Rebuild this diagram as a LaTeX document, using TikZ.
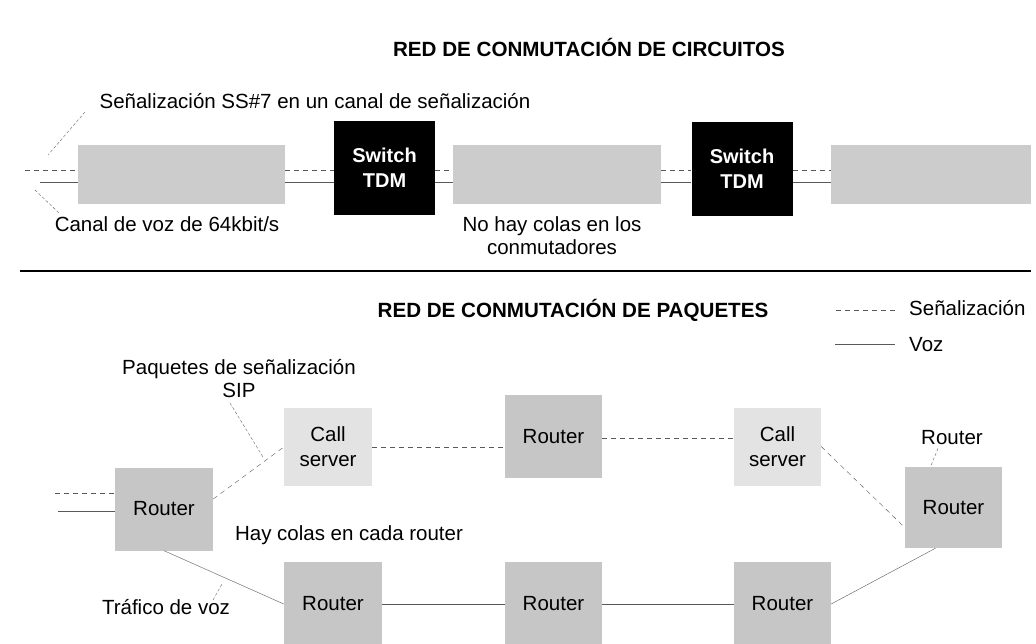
\documentclass[tikz,border=0pt]{standalone}
\usepackage{fontspec}
\setmainfont{Liberation Sans}
\begin{document}
\begin{tikzpicture}[x=1pt,y=-1pt,
  txt/.style={font=\fontsize{20.5}{23}\selectfont, inner sep=0pt, align=center},
  ttl/.style={font=\bfseries\fontsize{20.6}{24}\selectfont, inner sep=0pt},
  chan/.style={fill=gray!40, draw=none, minimum height=59pt, inner sep=0pt},
  switchbox/.style={fill=black, text=white, font=\bfseries\fontsize{20}{25}\selectfont, minimum width=101pt, minimum height=94pt, align=center, inner sep=0pt},
  router/.style={fill=gray!45, font=\fontsize{20.5}{25}\selectfont, minimum width=98pt, minimum height=83pt, inner sep=0pt, align=center},
  callsrv/.style={fill=gray!22, font=\fontsize{20.5}{25}\selectfont, minimum width=88pt, minimum height=78pt, inner sep=0pt, align=center},
  sig/.style={dash pattern=on 5pt off 4pt, thin, black!65},
  voz/.style={thin, black!65},
  leader/.style={densely dashed, thin, black!60}
]
\clip (0,0) rectangle (1036,644);
\fill[white] (0,0) rectangle (1036,644);

% ---------- circuit switched network ----------
\node[ttl] (t1) at (589,47) {RED DE CONMUTACIÓN DE CIRCUITOS};
\node[txt] (ss7) at (315,101) {Señalización SS\#7 en un canal de señalización};

\node[chan, minimum width=207pt] (bar1) at (181.5,174.5) {};
\node[switchbox] (sw1) at (384.5,168) {Switch\\TDM};
\node[chan, minimum width=208pt] (bar2) at (557,174.5) {};
\node[switchbox] (sw2) at (742,169) {Switch\\TDM};
\node[chan, minimum width=200pt] (bar3) at (931,174.5) {};

\coordinate (sy) at (0,170);
\coordinate (vy) at (0,182);
\coordinate (lsig) at (25,170);
\coordinate (lvoz) at (40,182);

\draw[sig] (lsig) -- (bar1.west |- sy);
\draw[voz] (lvoz) -- (bar1.west |- vy);
\draw[sig] (bar1.east |- sy) -- (sw1.west |- sy);
\draw[voz] (bar1.east |- vy) -- (sw1.west |- vy);
\draw[sig] (sw1.east |- sy) -- (bar2.west |- sy);
\draw[voz] (sw1.east |- vy) -- (bar2.west |- vy);
\draw[sig] (bar2.east |- sy) -- (sw2.west |- sy);
\draw[voz] (bar2.east |- vy) -- (sw2.west |- vy);
\draw[sig] (sw2.east |- sy) -- (bar3.west |- sy);
\draw[voz] (sw2.east |- vy) -- (bar3.west |- vy);

\node[txt] (canal) at (167,224) {Canal de voz de 64kbit/s};
\node[txt] (nocolas) at (552,236) {No hay colas en los\\conmutadores};

\coordinate (l1a) at (85,112);
\coordinate (l1b) at (48,155);
\coordinate (l2a) at (35,190);
\coordinate (l2b) at (60,214);
\draw[leader] (l1a) -- (l1b);
\draw[leader] (l2a) -- (l2b);

\coordinate (ruleL) at (20,271);
\coordinate (ruleR) at (1031,271);
\draw[line width=1.3pt] (ruleL) -- (ruleR);

% ---------- packet switched network ----------
\node[ttl] (t2) at (573,310) {RED DE CONMUTACIÓN DE PAQUETES};

\coordinate (legS1) at (836,310);
\coordinate (legS2) at (896,310);
\coordinate (legV1) at (835,344);
\coordinate (legV2) at (895,344);
\draw[sig] (legS1) -- (legS2);
\draw[voz] (legV1) -- (legV2);
\node[txt, anchor=west] (legS) at (909,308) {Señalización};
\node[txt, anchor=west] (legV) at (909,345) {Voz};

\node[txt] (paq) at (239,379) {Paquetes de señalización\\SIP};

\node[router] (lr) at (164,509) {Router};
\node[callsrv] (cs1) at (328,447) {Call\\server};
\node[router, minimum width=97pt] (rt) at (553.5,436.5) {Router};
\node[callsrv, minimum width=87pt] (cs2) at (777.5,446.5) {Call\\server};
\node[router, minimum width=97pt, minimum height=81pt] (rr) at (953.5,507.5) {Router};
\node[txt] (rlab) at (952,438) {Router};

\node[router, minimum height=84pt] (br1) at (333,604) {Router};
\node[router, minimum width=97pt, minimum height=84pt] (br2) at (553.5,604) {Router};
\node[router, minimum width=97pt, minimum height=84pt] (br3) at (782.5,604) {Router};

\node[txt] (hay) at (349,535) {Hay colas en cada router};
\node[txt] (trafico) at (166,607) {Tráfico de voz};

\coordinate (inS) at (55,493);
\coordinate (inV) at (58,511);
\draw[sig] (inS) -- (lr.west |- inS);
\draw[voz] (inV) -- (lr.west |- inV);

\draw[sig] ([yshift=10pt]lr.east) -- (cs1.west);
\draw[sig] (cs1.east) -- (rt.west |- cs1.east);
\draw[sig] (rt.east |- 0,438) -- (cs2.west |- 0,438);
\draw[sig] (cs2.east) -- ([yshift=-20pt]rr.west);

\draw[voz] (lr.south) -- (br1.west);
\draw[voz] (br1.east) -- (br2.west);
\draw[voz] (br2.east) -- (br3.west);
\draw[voz] (br3.east) -- ([xshift=-18pt]rr.south);

\coordinate (sipA) at (230,403);
\coordinate (sipB) at (263,457);
\draw[leader] (sipA) -- (sipB);
\coordinate (tvA) at (213,600);
\coordinate (tvB) at (222,584);
\draw[leader] (tvA) -- (tvB);
\draw[leader] (rlab.south) ++(-14,3) coordinate (rlA) -- ([xshift=-23pt]rr.north);
\end{tikzpicture}
\end{document}
